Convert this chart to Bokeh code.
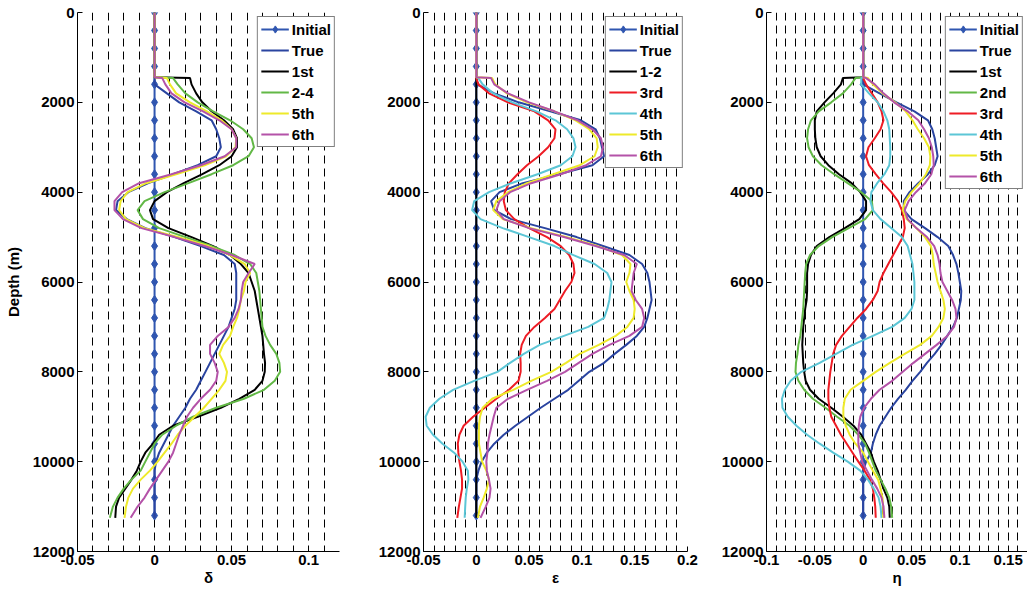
from bokeh.plotting import figure
from bokeh.models import Range1d, FixedTicker
from bokeh.layouts import row
from bokeh.embed import file_html
from bokeh.resources import INLINE

# ---------------- data ----------------
DEPTH = [0, 1440, 1460,
         1600, 1800, 2000, 2200, 2400, 2600, 2800, 3000,
         3200, 3400, 3600, 3800, 4000, 4200, 4400, 4600,
         4800, 5000, 5200, 5400, 5600, 5800, 6000, 6200,
         6400, 6600, 6800, 7000, 7200, 7400, 7600, 7800,
         8000, 8200, 8400, 8600, 8800, 9000, 9200, 9400,
         9600, 9800, 10000, 10200, 10400, 10600, 10800, 11000,
         11250]

INIT_DEPTH = [0, 400, 800, 1200, 1600, 2000, 2400, 2800, 3200, 3600, 4000, 4400,
              4800, 5200, 5600, 6000, 6400, 6800, 7200, 7600, 8000, 8400, 8800,
              9200, 9600, 10000, 10400, 10800, 11200]
INIT_VAL = [0, 0, 0, 0, 0, 0, 0, 0, 0, 0, 0, 0, 0, 0, 0, 0, 0, 0, 0, 0, 0, 0, 0,
            0, 0, 0, 0, 0, 0]
ZERO_DEPTH = [0, 11250]
ZERO_VAL = [0, 0]

# delta panel
D_TRUE = [0, 0, 0,
          0, 0.008, 0.016, 0.027, 0.037, 0.040, 0.042, 0.043,
          0.040, 0.028, 0.012, -0.004, -0.017, -0.024, -0.025, -0.018,
          -0.006, 0.013, 0.030, 0.045, 0.052, 0.053, 0.053, 0.053,
          0.053, 0.052, 0.050, 0.048, 0.045, 0.042, 0.039, 0.036,
          0.033, 0.030, 0.027, 0.023, 0.020, 0.016, 0.012, 0.009,
          0.006, 0.003, 0.001, 0, 0, 0, 0, 0,
          0]
D_1ST = [0, 0, 0.023,
         0.024, 0.027, 0.031, 0.037, 0.045, 0.051, 0.0535, 0.0535,
         0.050, 0.042, 0.031, 0.019, 0.008, 0.000, -0.003, -0.001,
         0.009, 0.024, 0.038, 0.049, 0.056, 0.061, 0.063, 0.065,
         0.066, 0.067, 0.068, 0.069, 0.070, 0.0705, 0.071, 0.0717,
         0.0715, 0.070, 0.065, 0.055, 0.043, 0.028, 0.012, 0.003,
         -0.001, -0.006, -0.009, -0.0115, -0.015, -0.019, -0.023, -0.025,
         -0.0255]
D_24 = [0, 0, 0.012,
        0.015, 0.020, 0.028, 0.038, 0.049, 0.0575, 0.063, 0.0645,
        0.061, 0.051, 0.037, 0.022, 0.0065, -0.0065, -0.011, -0.0075,
        0.003, 0.020, 0.037, 0.052, 0.062, 0.066, 0.067, 0.068,
        0.0685, 0.069, 0.0695, 0.070, 0.072, 0.075, 0.079, 0.081,
        0.0815, 0.078, 0.071, 0.058, 0.040, 0.025, 0.014, 0.005,
        0.000, -0.003, -0.006, -0.009, -0.015, -0.020, -0.024, -0.027,
        -0.029]
D_5TH = [0, 0, 0.008,
         0.010, 0.014, 0.023, 0.034, 0.0435, 0.050, 0.053, 0.0525,
         0.0465, 0.0325, 0.014, -0.0055, -0.0175, -0.022, -0.023, -0.0185,
         -0.0065, 0.015, 0.035, 0.049, 0.0585, 0.062, 0.059, 0.058,
         0.056, 0.055, 0.0535, 0.051, 0.049, 0.0445, 0.042, 0.045,
         0.047, 0.046, 0.042, 0.037, 0.032, 0.026, 0.020, 0.015,
         0.011, 0.0065, 0.002, -0.003, -0.009, -0.014, -0.017, -0.0185,
         -0.0195]
D_6TH = [0, 0, 0.005,
         0.007, 0.011, 0.0195, 0.0315, 0.042, 0.050, 0.053, 0.053,
         0.0455, 0.030, 0.011, -0.010, -0.021, -0.026, -0.026, -0.0205,
         -0.0085, 0.013, 0.0325, 0.050, 0.065, 0.061, 0.0575, 0.0565,
         0.056, 0.0545, 0.052, 0.048, 0.041, 0.036, 0.036, 0.039,
         0.041, 0.040, 0.036, 0.030, 0.025, 0.021, 0.0185, 0.016,
         0.014, 0.012, 0.009, 0.005, 0.001, -0.003, -0.0065, -0.011,
         -0.0155]

# epsilon panel
E_TRUE = [0, 0, 0,
          0.001, 0.017, 0.040, 0.070, 0.099, 0.113, 0.117, 0.119,
          0.121, 0.110, 0.078, 0.044, 0.022, 0.014, 0.017, 0.033,
          0.065, 0.095, 0.120, 0.145, 0.157, 0.162, 0.164, 0.165,
          0.166, 0.164, 0.162, 0.159, 0.152, 0.142, 0.131, 0.121,
          0.107, 0.097, 0.087, 0.074, 0.061, 0.049, 0.037, 0.026,
          0.017, 0.010, 0.005, 0.002, 0, 0, 0, 0,
          0]
E_3RD = [0, 0, 0,
         0.002, 0.012, 0.030, 0.055, 0.068, 0.075, 0.074, 0.068,
         0.059, 0.048, 0.039, 0.031, 0.027, 0.026, 0.028, 0.036,
         0.050, 0.067, 0.080, 0.088, 0.092, 0.093, 0.090, 0.084,
         0.079, 0.074, 0.065, 0.055, 0.047, 0.043, 0.0415, 0.042,
         0.042, 0.040, 0.031, 0.019, 0.008, -0.003, -0.012, -0.016,
         -0.0175, -0.017, -0.016, -0.0145, -0.0135, -0.0135, -0.015, -0.0165,
         -0.018]
E_4TH = [0, 0, 0.002,
         0.006, 0.016, 0.034, 0.057, 0.075, 0.086, 0.092, 0.094,
         0.091, 0.080, 0.058, 0.033, 0.012, -0.002, -0.004, 0.004,
         0.025, 0.050, 0.074, 0.092, 0.112, 0.124, 0.128, 0.127,
         0.126, 0.124, 0.121, 0.106, 0.083, 0.060, 0.045, 0.032,
         0.020, -0.002, -0.022, -0.035, -0.044, -0.048, -0.047, -0.041,
         -0.032, -0.021, -0.013, -0.008, -0.0075, -0.009, -0.010, -0.0105,
         -0.011]
E_5TH = [0, 0, 0.015,
         0.018, 0.029, 0.048, 0.074, 0.094, 0.107, 0.114, 0.115,
         0.112, 0.098, 0.073, 0.048, 0.030, 0.019, 0.016, 0.025,
         0.052, 0.085, 0.115, 0.138, 0.146, 0.145, 0.142, 0.145,
         0.149, 0.150, 0.149, 0.143, 0.132, 0.116, 0.098, 0.085,
         0.071, 0.052, 0.035, 0.015, 0.006, 0.0035, 0.0025, 0.0025,
         0.0025, 0.004, 0.0055, 0.0095, 0.012, 0.010, 0.007, 0.0035,
         0.0015]
E_6TH = [0, 0, 0.014,
         0.017, 0.030, 0.050, 0.074, 0.096, 0.110, 0.118, 0.120,
         0.118, 0.104, 0.080, 0.052, 0.032, 0.022, 0.019, 0.026,
         0.050, 0.083, 0.113, 0.140, 0.152, 0.149, 0.148, 0.147,
         0.151, 0.157, 0.159, 0.157, 0.145, 0.126, 0.110, 0.097,
         0.084, 0.067, 0.048, 0.030, 0.019, 0.0165, 0.0145, 0.0125,
         0.011, 0.0105, 0.0095, 0.010, 0.012, 0.0135, 0.0125, 0.009,
         0.004]

# eta panel
H_TRUE = [0, 0, 0,
          0, 0.017, 0.0345, 0.053, 0.067, 0.0715, 0.074, 0.0755,
          0.077, 0.074, 0.067, 0.057, 0.048, 0.042, 0.042, 0.050,
          0.064, 0.077, 0.088, 0.093, 0.0965, 0.0985, 0.100, 0.1015,
          0.101, 0.099, 0.097, 0.093, 0.087, 0.081, 0.074, 0.066,
          0.059, 0.051, 0.044, 0.036, 0.029, 0.023, 0.017, 0.013,
          0.010, 0.008, 0.003, 0, 0, 0, 0, 0,
          0]
H_1ST = [0, 0, -0.021,
         -0.023, -0.031, -0.040, -0.048, -0.050, -0.050, -0.0495, -0.048,
         -0.044, -0.036, -0.025, -0.012, -0.003, 0.003, 0.003, -0.004,
         -0.019, -0.035, -0.048, -0.054, -0.057, -0.058, -0.058, -0.058,
         -0.0585, -0.060, -0.061, -0.062, -0.0625, -0.063, -0.0625, -0.062,
         -0.061, -0.0595, -0.055, -0.046, -0.033, -0.021, -0.010, -0.002,
         0.003, 0.008, 0.011, 0.015, 0.018, 0.021, 0.025, 0.027,
         0.0275]
H_2ND = [0, 0, -0.008,
         -0.0125, -0.021, -0.033, -0.046, -0.054, -0.057, -0.058, -0.0565,
         -0.052, -0.043, -0.030, -0.016, -0.002, 0.009, 0.010, 0.002,
         -0.015, -0.032, -0.046, -0.055, -0.059, -0.060, -0.0605, -0.061,
         -0.0615, -0.062, -0.063, -0.064, -0.065, -0.067, -0.068, -0.0695,
         -0.070, -0.067, -0.061, -0.052, -0.039, -0.027, -0.014, -0.005,
         0.002, 0.006, 0.0095, 0.013, 0.018, 0.023, 0.027, 0.029,
         0.030]
H_3RD = [0, 0, 0,
         0.003, 0.009, 0.015, 0.019, 0.021, 0.018, 0.012, 0.0055,
         0.003, 0.006, 0.013, 0.0205, 0.029, 0.036, 0.040, 0.042,
         0.043, 0.041, 0.036, 0.031, 0.026, 0.021, 0.017, 0.015,
         0.010, 0.003, -0.006, -0.014, -0.022, -0.028, -0.031, -0.0325,
         -0.034, -0.035, -0.036, -0.036, -0.035, -0.033, -0.028, -0.023,
         -0.017, -0.011, -0.005, 0.0015, 0.007, 0.010, 0.0115, 0.0125,
         0.013]
H_4TH = [0, 0, -0.002,
         -0.002, 0.006, 0.015, 0.021, 0.025, 0.027, 0.0275, 0.028,
         0.028, 0.027, 0.022, 0.0145, 0.0085, 0.0075, 0.010, 0.018,
         0.029, 0.040, 0.046, 0.0485, 0.051, 0.052, 0.053, 0.053,
         0.053, 0.050, 0.043, 0.030, 0.010, -0.011, -0.028, -0.045,
         -0.064, -0.075, -0.081, -0.084, -0.0835, -0.078, -0.069, -0.058,
         -0.045, -0.031, -0.016, -0.003, 0.005, 0.011, 0.016, 0.018,
         0.019]
H_5TH = [0, 0, 0.005,
         0.010, 0.020, 0.033, 0.044, 0.051, 0.0565, 0.063, 0.068,
         0.0695, 0.069, 0.065, 0.0585, 0.050, 0.0435, 0.041, 0.045,
         0.055, 0.064, 0.070, 0.072, 0.073, 0.075, 0.077, 0.080,
         0.083, 0.0845, 0.083, 0.078, 0.071, 0.059, 0.043, 0.0276,
         0.013, 0.000, -0.013, -0.019, -0.0205, -0.0205, -0.018, -0.014,
         -0.008, 0.000, 0.005, 0.010, 0.0155, 0.018, 0.020, 0.0207,
         0.0207]
H_6TH = [0, 0, 0.003,
         0.012, 0.021, 0.032, 0.046, 0.057, 0.063, 0.068, 0.071,
         0.0725, 0.073, 0.0705, 0.064, 0.0545, 0.047, 0.043, 0.046,
         0.055, 0.066, 0.0735, 0.077, 0.079, 0.080, 0.082, 0.087,
         0.092, 0.0955, 0.0965, 0.094, 0.087, 0.076, 0.064, 0.052,
         0.041, 0.030, 0.017, 0.008, 0.001, -0.003, -0.0045, -0.005,
         -0.005, -0.003, -0.001, 0.004, 0.009, 0.0145, 0.019, 0.021,
         0.022]

Y_TICKS = [0, 2000, 4000, 6000, 8000, 10000, 12000]
Y_LABELS = ["0", "2000", "4000", "6000", "8000", "10000", "12000"]

P1_XTICKS = [-0.05, 0, 0.05, 0.1]
P1_XLABELS = ["-0.05", "0", "0.05", "0.1"]
P2_XTICKS = [-0.05, 0, 0.05, 0.1, 0.15, 0.2]
P2_XLABELS = ["-0.05", "0", "0.05", "0.1", "0.15", "0.2"]
P3_XTICKS = [-0.1, -0.05, 0, 0.05, 0.1, 0.15]
P3_XLABELS = ["-0.1", "-0.05", "0", "0.05", "0.1", "0.15"]

# ---------------- style ----------------
FONT = "Liberation Sans"
C_INIT = "#3056B0"
C_TRUE = "#2A44A0"
C_BLACK = "#000000"
C_GREEN = "#62B846"
C_RED = "#EE1C25"
C_CYAN = "#5CC6D6"
C_YELLOW = "#EEEA2A"
C_MAGENTA = "#B452A8"

H = 589


def panel(xr, xticks, xlabels, xlabel, series, left, frame_w, right, ylabel=None):
    p = figure(width=left + frame_w + right, height=H,
               x_range=Range1d(*xr), y_range=Range1d(12000, 0),
               output_backend="svg", toolbar_location=None,
               min_border_left=left, min_border_right=right,
               min_border_top=12, min_border_bottom=38)
    p.outline_line_color = None
    p.background_fill_color = "white"
    p.border_fill_color = "white"

    n = int(round((xr[1] - xr[0]) / 0.01))
    grid_pos = [round(xr[0] + 0.01 * i, 2) for i in range(1, n + 1)]
    p.xgrid.ticker = FixedTicker(ticks=grid_pos)
    p.xgrid.grid_line_color = "black"
    p.xgrid.grid_line_width = 1
    p.xgrid.grid_line_dash = "8 5"
    p.ygrid.visible = False

    p.xaxis.ticker = FixedTicker(ticks=xticks)
    p.xaxis.major_label_overrides = {t: l for t, l in zip(xticks, xlabels)}
    p.yaxis.ticker = FixedTicker(ticks=Y_TICKS)
    p.yaxis.major_label_overrides = {t: l for t, l in zip(Y_TICKS, Y_LABELS)}
    p.xaxis.axis_label = xlabel
    if ylabel:
        p.yaxis.axis_label = ylabel
    for ax in (p.xaxis[0], p.yaxis[0]):
        ax.axis_line_color = "black"
        ax.axis_line_width = 1
        ax.major_tick_in = 5
        ax.major_tick_out = 0
        ax.major_tick_line_color = "black"
        ax.minor_tick_line_color = None
        ax.major_label_text_font = FONT
        ax.major_label_text_font_style = "bold"
        ax.major_label_text_font_size = "15px"
        ax.major_label_text_color = "black"
        ax.axis_label_text_font = FONT
        ax.axis_label_text_font_style = "bold"
        ax.axis_label_text_font_size = "15px"
        ax.axis_label_text_color = "black"
    p.xaxis.major_label_standoff = 3
    p.xaxis.axis_label_standoff = 1
    p.yaxis.major_label_standoff = 3
    p.yaxis.axis_label_standoff = 8

    for name, dep, vals, color in series:
        if name == "Initial":
            p.line(vals, dep, line_color=color, line_width=2, legend_label=name)
            p.scatter(vals, dep, marker="diamond", size=9, fill_color=color,
                      line_color=color, legend_label=name)
        else:
            p.line(vals, dep, line_color=color, line_width=2, legend_label=name)

    lg = p.legend[0]
    lg.location = "top_right"
    lg.margin = 4
    lg.padding = 3
    lg.spacing = 3
    lg.label_text_font = FONT
    lg.label_text_font_style = "bold"
    lg.label_text_font_size = "15px"
    lg.label_text_color = "black"
    lg.glyph_width = 28
    lg.glyph_height = 18
    lg.label_height = 18
    lg.label_standoff = 3
    lg.border_line_color = "black"
    lg.border_line_width = 1
    lg.background_fill_color = "white"
    lg.background_fill_alpha = 1.0
    return p


p1 = panel((-0.05, 0.12), P1_XTICKS, P1_XLABELS, "δ", [
    ("Initial", INIT_DEPTH, INIT_VAL, C_INIT),
    ("True", DEPTH, D_TRUE, C_TRUE),
    ("1st", DEPTH, D_1ST, C_BLACK),
    ("2-4", DEPTH, D_24, C_GREEN),
    ("5th", DEPTH, D_5TH, C_YELLOW),
    ("6th", DEPTH, D_6TH, C_MAGENTA),
], 77, 262, 34, ylabel="Depth (m)")

p2 = panel((-0.05, 0.2), P2_XTICKS, P2_XLABELS, "ε", [
    ("Initial", INIT_DEPTH, INIT_VAL, C_INIT),
    ("True", DEPTH, E_TRUE, C_TRUE),
    ("1-2", ZERO_DEPTH, ZERO_VAL, C_BLACK),
    ("3rd", DEPTH, E_3RD, C_RED),
    ("4th", DEPTH, E_4TH, C_CYAN),
    ("5th", DEPTH, E_5TH, C_YELLOW),
    ("6th", DEPTH, E_6TH, C_MAGENTA),
], 50, 264, 29)

p3 = panel((-0.1, 0.17), P3_XTICKS, P3_XLABELS, "η", [
    ("Initial", INIT_DEPTH, INIT_VAL, C_INIT),
    ("True", DEPTH, H_TRUE, C_TRUE),
    ("1st", DEPTH, H_1ST, C_BLACK),
    ("2nd", DEPTH, H_2ND, C_GREEN),
    ("3rd", DEPTH, H_3RD, C_RED),
    ("4th", DEPTH, H_4TH, C_CYAN),
    ("5th", DEPTH, H_5TH, C_YELLOW),
    ("6th", DEPTH, H_6TH, C_MAGENTA),
], 50, 261, 0)

layout = row(p1, p2, p3)
open("out.html", "w").write(file_html(layout, INLINE))
